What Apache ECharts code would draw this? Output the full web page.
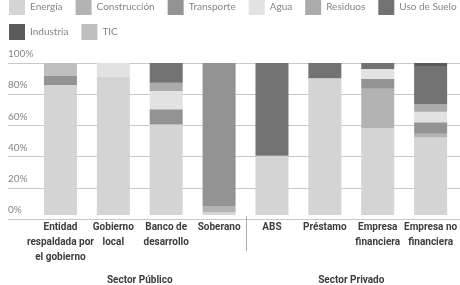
<!DOCTYPE html>
<html>
<head>
<meta charset="utf-8">
<script src="https://cdn.jsdelivr.net/npm/echarts@6/dist/echarts.min.js"></script>
<style>
html,body{margin:0;padding:0;background:#fff;}
#chart{width:460px;height:285px;}
</style>
</head>
<body>
<div id="chart"></div>
<script>
var categories = ['Entidad\nrespaldada por\nel gobierno', 'Gobierno\nlocal', 'Banco de\ndesarrollo', 'Soberano', 'ABS', 'Préstamo', 'Empresa\nfinanciera', 'Empresa no\nfinanciera'];
var groups = ['Sector Público', 'Sector Privado'];
var yTicks = [0, 20, 40, 60, 80, 100];

// % de cada sector por tipo de emisor
var energia      = [85.5, 91, 59.5, 2,  39, 90, 57,   51];
var construccion = [0,    0,  0,    4,  0,  0,  26,   2.5];
var transporte   = [6,    0,  10,   94, 0,  0,  6.5,  7.5];
var agua         = [0,    9,  12,   0,  0,  0,  6.5,  7];
var residuos     = [0,    0,  5.5,  0,  0,  0,  0,    5];
var usoSuelo     = [0,    0,  13,   0,  61, 10, 4,    25];
var industria    = [0,    0,  0,    0,  0,  0,  0,    2];
var tic          = [8.5,  0,  0,    0,  0,  0,  0,    0];

var names = ['Energía', 'Construcción', 'Transporte', 'Agua', 'Residuos', 'Uso de Suelo', 'Industria', 'TIC'];
var colors = ['#d4d4d4', '#b3b3b3', '#939393', '#e2e2e2', '#ababab', '#727272', '#5b5b5b', '#bfbfbf'];
var values = [energia, construccion, transporte, agua, residuos, usoSuelo, industria, tic];

var font = 'Lato, "Open Sans", sans-serif';
var boldFont = 'Roboto, "Noto Sans", sans-serif';

var myChart = echarts.init(document.getElementById('chart'));

var series = names.map(function (n, i) {
    return {
        name: n,
        type: 'bar',
        stack: 'total',
        xAxisIndex: 0,
        yAxisIndex: 0,
        barWidth: 33,
        itemStyle: { color: colors[i] },
        data: values[i]
    };
});

var legendText = { color: '#858585', fontSize: 10, fontFamily: font };

var option = {
    animation: false,
    color: colors,
    legend: [
        {
            data: names.slice(0, 6),
            left: 9, top: -1, width: 455,
            padding: 0,
            itemWidth: 16, itemHeight: 16, itemGap: 13,
            icon: 'rect',
            textStyle: legendText
        },
        {
            data: names.slice(6),
            left: 9, top: 24,
            padding: 0,
            itemWidth: 16, itemHeight: 16, itemGap: 13,
            icon: 'rect',
            textStyle: legendText
        }
    ],
    grid: [
        { left: 34, right: 0, top: 63, bottom: 66 },
        // only for the gridlines and % labels
        { left: 8, right: 0, top: 63, bottom: 66 }
    ],
    xAxis: [
        {
            type: 'category',
            gridIndex: 0,
            data: categories,
            axisLine: { show: false },
            axisTick: { show: false },
            axisLabel: {
                interval: 0,
                margin: 5,
                color: '#3c3c3c',
                fontSize: 10,
                fontWeight: 'bold',
                fontFamily: boldFont,
                lineHeight: 15
            }
        },
        {
            type: 'category',
            gridIndex: 0,
            position: 'bottom',
            offset: 52,
            data: groups,
            axisLine: { show: false },
            axisTick: { show: false },
            axisLabel: {
                color: '#3c3c3c',
                fontSize: 10,
                fontWeight: 'bold',
                fontFamily: boldFont
            }
        },
        {
            type: 'value',
            gridIndex: 1,
            show: false
        }
    ],
    yAxis: [
        {
            type: 'value',
            gridIndex: 0,
            min: 0, max: 100,
            show: false
        },
        {
            type: 'value',
            gridIndex: 1,
            min: 0, max: 100, interval: 20,
            axisLine: { show: false },
            axisTick: { show: false },
            splitLine: { lineStyle: { color: '#c8c8c8', width: 1 } },
            axisLabel: {
                inside: true,
                align: 'left',
                verticalAlign: 'bottom',
                margin: 0,
                padding: [0, 0, 4, 0],
                color: '#858585',
                fontSize: 10,
                fontFamily: font,
                formatter: function (v) { return yTicks.indexOf(v) > -1 ? v + '%' : ''; }
            }
        }
    ],
    series: series
};

myChart.setOption(option);

// separador entre sector público y privado
var xa = myChart.convertToPixel({ xAxisIndex: 0 }, categories[3]);
var xb = myChart.convertToPixel({ xAxisIndex: 0 }, categories[4]);
var y0 = myChart.convertToPixel({ yAxisIndex: 0 }, 0);
var sx = Math.round((xa + xb) / 2) + 0.5;
myChart.setOption({
    graphic: [{
        type: 'line',
        shape: { x1: sx, y1: y0 + 1, x2: sx, y2: y0 + 36 },
        style: { stroke: '#aaaaaa', lineWidth: 1 }
    }]
});
</script>
</body>
</html>
